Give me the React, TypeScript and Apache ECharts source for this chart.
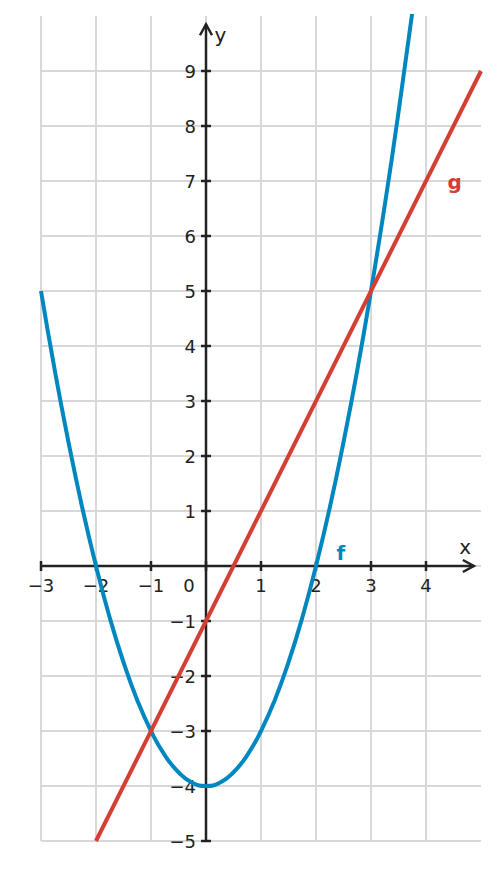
import React, { useEffect, useRef } from "react";
import * as echarts from "echarts";

// Parabola f
const fX = [-3, -2.75, -2.5, -2.25, -2, -1.75, -1.5, -1.25, -1, -0.75, -0.5, -0.25, 0, 0.25, 0.5, 0.75, 1, 1.25, 1.5, 1.75, 2, 2.25, 2.5, 2.75, 3, 3.25, 3.5, 3.75];
const fY = [5, 3.56, 2.25, 1.06, 0, -0.94, -1.75, -2.44, -3, -3.44, -3.75, -3.94, -4, -3.94, -3.75, -3.44, -3, -2.44, -1.75, -0.94, 0, 1.06, 2.25, 3.56, 5, 6.56, 8.25, 10.06];
// Line g
const gX = [-2, 5];
const gY = [-5, 9];
// Tick values
const xTicks = [-3, -2, -1, 0, 1, 2, 3, 4];
const yTicks = [-5, -4, -3, -2, -1, 1, 2, 3, 4, 5, 6, 7, 8, 9];

const AXIS = "#222222";
const BLUE = "#0087bf";
const RED = "#d63d33";
const GRID = "#d8d8d8";
const FONT = '"DejaVu Sans", sans-serif';

const fmt = (v: number) => (v < 0 ? "\u2212" + Math.abs(v) : String(v));

export default function App() {
  const ref = useRef<HTMLDivElement>(null);
  useEffect(() => {
    document.body.style.margin = "0";
    const chart = echarts.init(ref.current!, undefined, { renderer: "svg" });
    const fData = fX.map((x, i) => [x, fY[i]]);
    const gData = gX.map((x, i) => [x, gY[i]]);
    const option: any = {
      animation: false,
      grid: { left: 41, right: 18, top: 16, bottom: 29 },
      xAxis: {
        type: "value",
        min: -3,
        max: 5,
        interval: 1,
        axisLine: { show: false },
        axisTick: { show: false },
        axisLabel: { show: false },
        splitLine: { show: true, showMaxLine: false, lineStyle: { color: GRID, width: 2 } },
      },
      yAxis: {
        type: "value",
        min: -5,
        max: 10,
        interval: 1,
        axisLine: { show: false },
        axisTick: { show: false },
        axisLabel: { show: false },
        splitLine: { show: true, showMaxLine: false, lineStyle: { color: GRID, width: 2 } },
      },
      series: [
        {
          type: "custom",
          data: [[0, 0]],
          clip: false,
          silent: true,
          z: 1,
          renderItem: (params: any, api: any) => {
            const o = api.coord([0, 0]);
            const xs = api.coord([-3, 0]);
            const xe = api.coord([4.87, 0]);
            const ys = api.coord([0, -5]);
            const ye = api.coord([0, 9.85]);
            const ls = { stroke: AXIS, lineWidth: 2.5, fill: "none" };
            const tf = `18px ${FONT}`;
            const children: any[] = [
              { type: "line", shape: { x1: xs[0], y1: o[1], x2: xe[0], y2: o[1] }, style: ls },
              { type: "line", shape: { x1: o[0], y1: ys[1], x2: o[0], y2: ye[1] }, style: ls },
              {
                type: "polyline",
                shape: { points: [[xe[0] - 11, o[1] - 6], [xe[0], o[1]], [xe[0] - 11, o[1] + 6]] },
                style: ls,
              },
              {
                type: "polyline",
                shape: { points: [[o[0] - 6, ye[1] + 11], [o[0], ye[1]], [o[0] + 6, ye[1] + 11]] },
                style: ls,
              },
            ];
            xTicks.forEach((t) => {
              const p = api.coord([t, 0]);
              children.push({ type: "line", shape: { x1: p[0], y1: p[1] - 5, x2: p[0], y2: p[1] + 5 }, style: ls });
              children.push({
                type: "text",
                x: t === 0 ? p[0] - 17 : p[0],
                y: p[1] + 10,
                style: { text: fmt(t), fill: AXIS, font: tf, align: "center", verticalAlign: "top" },
              });
            });
            yTicks.forEach((t) => {
              const p = api.coord([0, t]);
              children.push({ type: "line", shape: { x1: p[0] - 5, y1: p[1], x2: p[0] + 5, y2: p[1] }, style: ls });
              children.push({
                type: "text",
                x: p[0] - 10,
                y: p[1],
                style: { text: fmt(t), fill: AXIS, font: tf, align: "right", verticalAlign: "middle" },
              });
            });
            const xl = api.coord([4.71, 0.35]);
            const yl = api.coord([0.26, 9.65]);
            const fl = api.coord([2.45, 0.24]);
            const gl = api.coord([4.52, 6.98]);
            children.push(
              { type: "text", x: xl[0], y: xl[1], style: { text: "x", fill: AXIS, font: `20px ${FONT}`, align: "center", verticalAlign: "middle" } },
              { type: "text", x: yl[0], y: yl[1], style: { text: "y", fill: AXIS, font: `20px ${FONT}`, align: "center", verticalAlign: "middle" } },
              { type: "text", x: fl[0], y: fl[1], style: { text: "f", fill: BLUE, font: `bold 20px ${FONT}`, align: "center", verticalAlign: "middle" } },
              { type: "text", x: gl[0], y: gl[1], style: { text: "g", fill: RED, font: `bold 20px ${FONT}`, align: "center", verticalAlign: "middle" } }
            );
            return { type: "group", children };
          },
        },
        {
          name: "f",
          type: "line",
          data: fData,
          showSymbol: false,
          smooth: true,
          clip: true,
          z: 2,
          lineStyle: { color: BLUE, width: 4 },
        },
        {
          name: "g",
          type: "line",
          data: gData,
          showSymbol: false,
          clip: true,
          z: 3,
          lineStyle: { color: RED, width: 4 },
        },
      ],
    };
    chart.setOption(option);
    return () => chart.dispose();
  }, []);
  return <div ref={ref} style={{ width: 499, height: 870 }} />;
}
